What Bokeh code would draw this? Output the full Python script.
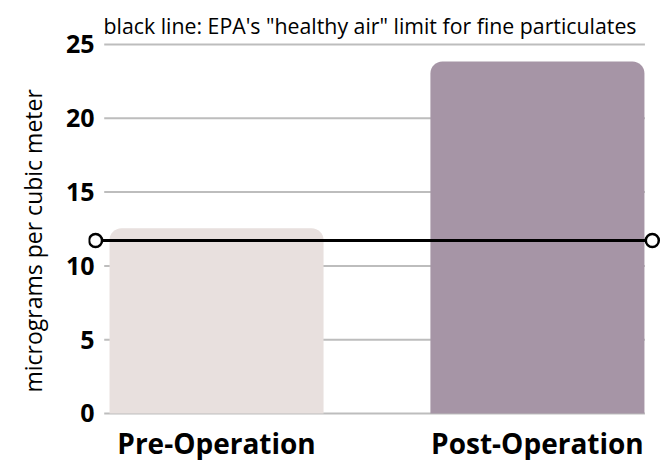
from bokeh.plotting import figure
from bokeh.models import Range1d, FixedTicker, Title
from bokeh.embed import file_html
from bokeh.resources import INLINE
from bokeh.core.properties import value

# ---- data ----
categories = ["Pre-Operation", "Post-Operation"]
pm25 = [12.55, 23.85]
bar_colors = ["#e8e0de", "#a695a6"]
y_ticks = [0, 5, 10, 15, 20, 25]
epa_limit = 11.72
y_title = "micrograms per cubic meter"
chart_title = 'black line: EPA\'s "healthy air" limit for fine particulates'

# ---- layout constants ----
FONT = "Open Sans"
xs = list(range(len(categories)))
GRID_X0, GRID_X1 = -0.35, 1.335
LINE_X0, LINE_X1 = -0.377, 1.358
BAR_W = 0.667
CAT_LABEL_Y = -1.97

p = figure(width=668, height=460, output_backend="svg", toolbar_location=None,
           x_range=Range1d(-0.399, 1.396), y_range=Range1d(-3.184, 25.2),
           title=chart_title,
           min_border_left=88, min_border_right=4, min_border_top=41,
           min_border_bottom=0)
p.outline_line_color = None
p.background_fill_color = "white"
p.border_fill_color = "white"

p.title.align = "left"
p.title.offset = 15
p.title.standoff = 4
p.title.text_font = FONT
p.title.text_font_size = "21.3px"
p.title.text_font_style = "normal"
p.title.text_color = "black"

p.xgrid.visible = False
p.ygrid.visible = False
p.xaxis.visible = False

# gridlines drawn as segments so they stop short of the limit-line markers
p.segment(x0=GRID_X0, x1=GRID_X1, y0=y_ticks, y1=y_ticks,
          line_color="#bdbdbd", line_width=2)

p.vbar(x=xs, top=pm25, bottom=0, width=BAR_W, fill_color=bar_colors,
       line_color=None, border_radius=(12, 12, 0, 0))

p.line(x=[LINE_X0, LINE_X1], y=[epa_limit, epa_limit], line_color="black",
       line_width=3)
p.scatter(x=[LINE_X0, LINE_X1], y=[epa_limit, epa_limit], size=13,
          fill_color="white", line_color="black", line_width=2.5)

# category labels
p.text(x=xs, y=[CAT_LABEL_Y] * len(xs), text=categories,
       text_font=value(FONT), text_font_style="bold", text_font_size="28px",
       text_color="black", text_align="center", text_baseline="alphabetic")

ax = p.yaxis[0]
ax.axis_line_color = None
ax.major_tick_line_color = None
ax.minor_tick_line_color = None
ax.major_tick_out = 0
ax.ticker = FixedTicker(ticks=y_ticks)
ax.major_label_text_font = FONT
ax.major_label_text_font_style = "bold"
ax.major_label_text_color = "black"
ax.major_label_text_font_size = "25px"
ax.major_label_standoff = -6

p.add_layout(Title(text=y_title, align="left", offset=68, standoff=28,
                   text_font=FONT, text_font_size="23px",
                   text_font_style="normal", text_color="black"), "left")

open("out.html", "w").write(file_html(p, INLINE))
